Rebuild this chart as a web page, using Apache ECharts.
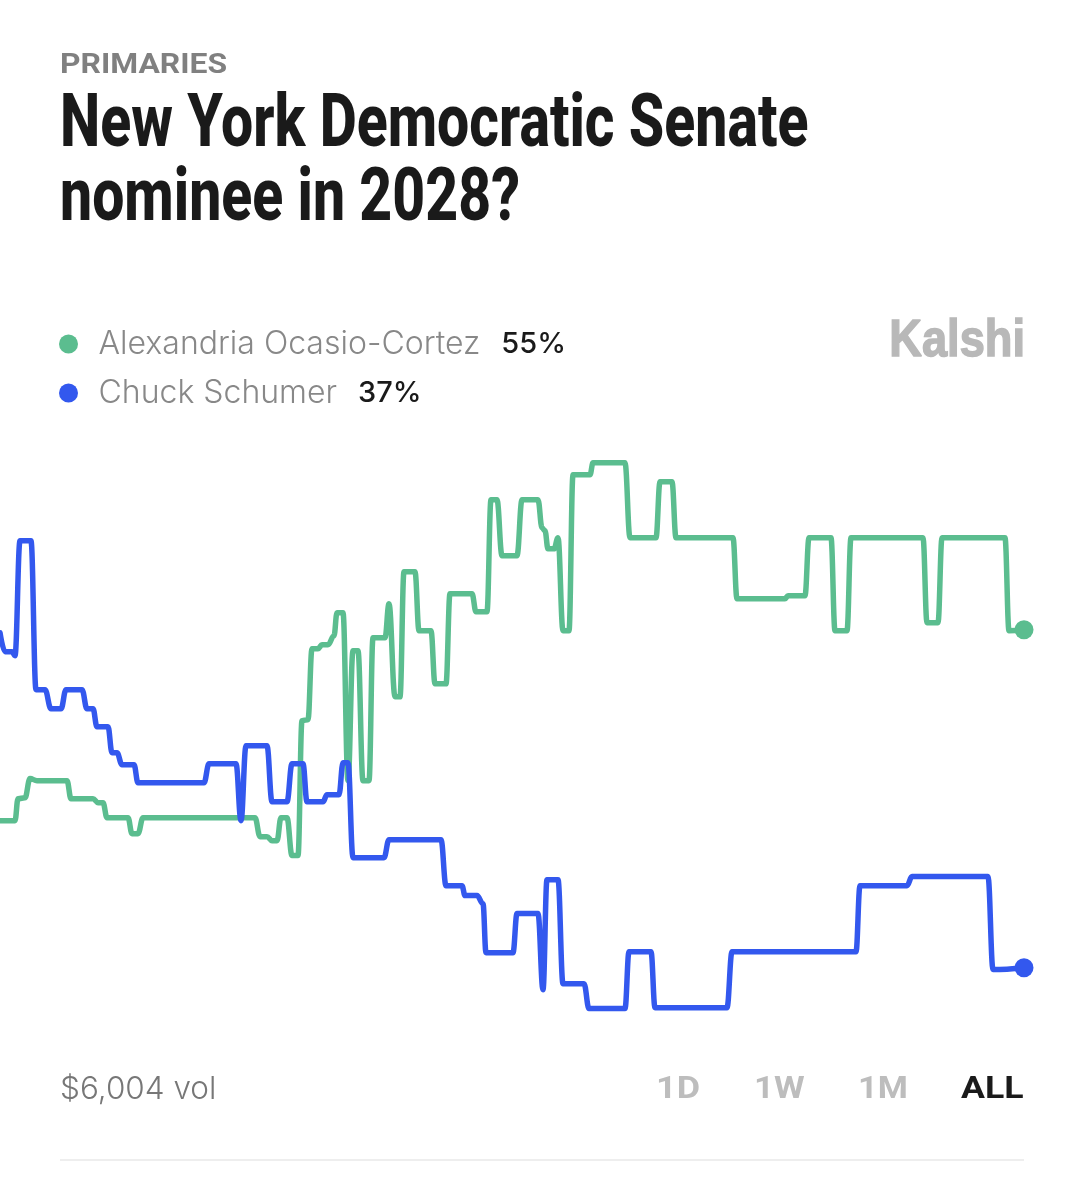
<!DOCTYPE html>
<html><head><meta charset="utf-8">
<style>html,body{margin:0;padding:0;background:#fff}#c{width:1084px;height:1200px}</style>
<script src="https://cdn.jsdelivr.net/npm/echarts@6/dist/echarts.min.js"></script>
</head><body><div id="c"></div>
<script>
const kicker = 'PRIMARIES';
const titleLines = ['New York Democratic Senate', 'nominee in 2028?'];
const aocName = 'Alexandria Ocasio-Cortez';
const schumerName = 'Chuck Schumer';
const aocNow = '55%';
const schumerNow = '37%';
const volume = '$6,004 vol';
const ranges = ['1D', '1W', '1M', 'ALL'];
const brand = 'Kalshi';
const aocColor = '#5bbd8f';
const schumerColor = '#3358ee';

const aocT = [0,15,18,25,30,37,67,71,93,98,103,107,128,132,138,143,255,260,267,272,277,281,287,292,298,302,308,312,318,322,328,334,337,343,348,353,358,363,369,373,385,389,395,400,404,415,419,431,435,446,450,472,476,487,491,497,502,517,522,538,542,545,548,554,558,563,569,573,590,593,625,630,656,660,672,676,733,737,785,788,805,809,831,835,847,851,923,927,938,942,1005,1009,1024];
const aocPct = [44.83,44.83,46.0,46.05,47.07,46.96,46.96,46.0,46.0,45.79,45.79,44.99,44.99,44.14,44.14,44.99,44.99,43.98,43.98,43.76,43.76,44.99,44.99,42.97,42.97,50.15,50.21,53.99,53.99,54.2,54.2,54.68,55.91,55.91,46.96,53.88,53.88,46.96,46.96,54.57,54.57,56.38,51.43,51.43,58.09,58.09,54.95,54.95,52.12,52.12,56.92,56.92,55.96,55.96,61.92,61.92,58.94,58.94,61.92,61.92,60.43,60.27,59.31,59.31,59.9,54.95,54.95,63.25,63.25,63.89,63.89,59.9,59.9,62.88,62.88,59.9,59.9,56.65,56.65,56.81,56.81,59.9,59.9,54.95,54.95,59.9,59.9,55.37,55.37,59.9,59.9,54.95,55.0];

const schumerT = [0,5,12,15,20,31,36,45,51,61,66,82,87,93,97,108,112,117,122,134,138,204,209,236,241,246,267,272,287,292,303,307,323,327,339,343,348,353,384,389,441,446,462,465,477,483,486,513,517,538,543,547,558,563,584,589,625,629,651,655,727,732,856,860,907,912,988,993,1024];
const schumerPct = [54.84,53.83,53.83,53.62,59.74,59.74,51.81,51.81,50.79,50.79,51.81,51.81,50.79,50.79,49.83,49.83,48.45,48.45,47.81,47.81,46.85,46.85,47.86,47.86,44.83,48.82,48.82,45.84,45.84,47.86,47.86,45.84,45.84,46.21,46.21,47.92,47.92,42.86,42.86,43.82,43.82,41.37,41.37,40.84,40.84,40.41,37.8,37.8,39.88,39.88,35.83,41.69,41.69,36.15,36.15,34.82,34.82,37.85,37.85,34.87,34.87,37.85,37.85,41.37,41.37,41.85,41.85,36.9,37.0];

const pairs = (t, v) => t.map((x, i) => [x, v[i]]);
const lineSeries = (name, t, v, color) => ({
  name, type: 'line', data: pairs(t, v), showSymbol: false,
  smooth: 0.4, smoothMonotone: 'x',
  lineStyle: { color, width: 5.5, cap: 'round', join: 'round' },
  itemStyle: { color },
  markPoint: {
    symbol: 'circle', symbolSize: 19, silent: true,
    itemStyle: { color }, label: { show: false },
    data: [{ coord: [t[t.length - 1], v[v.length - 1]] }]
  }
});

const txt = (text, x, y, font, fill, scaleX, align, heavy) => ({
  type: 'text', x, y, scaleX: scaleX || 1, scaleY: 1, silent: true,
  style: Object.assign(
    { text, font, fill, textAlign: align || 'left', textVerticalAlign: 'middle' },
    heavy ? { stroke: fill, lineWidth: heavy } : {}
  )
});
const titleFont = '800 75px Roboto';
const rangeFont = '700 31px Roboto';
const rangeGrey = '#bdbdbd';

const chart = echarts.init(document.getElementById('c'), null, { renderer: 'canvas' });
chart.setOption({
  animation: false,
  backgroundColor: '#ffffff',
  grid: { left: 0, right: 0, top: 442, bottom: 176 },
  xAxis: { type: 'value', min: 0, max: 1084, show: false },
  yAxis: { type: 'value', min: 34, max: 65, show: false },
  legend: {
    left: 54, top: 323, orient: 'vertical', icon: 'circle',
    itemWidth: 50, itemHeight: 19, itemGap: 17, selectedMode: false,
    data: [aocName, schumerName],
    formatter: n => n === aocName ? `{n|${n}}{p|${aocNow}}` : `{n|${n}}{p|${schumerNow}}`,
    textStyle: {
      rich: {
        n: { fontFamily: 'Inter', fontWeight: 300, fontSize: 32, color: '#888888', lineHeight: 30 },
        p: { fontFamily: 'Inter', fontWeight: 500, fontSize: 29, color: '#1a1a1a', padding: [0, 0, 0, 21], lineHeight: 30 }
      }
    }
  },
  series: [
    lineSeries(aocName, aocT, aocPct, aocColor),
    lineSeries(schumerName, schumerT, schumerPct, schumerColor)
  ],
  graphic: { elements: [
    txt(kicker, 60, 66, '700 27px Roboto', '#808080', 1.18),
    txt(titleLines[0], 60, 127, titleFont, '#1a1a1a', 0.762),
    txt(titleLines[1], 60, 201, titleFont, '#1a1a1a', 0.762),
    txt(brand, 1025, 342, '700 52px "Liberation Sans"', '#b8b8b8', 0.87, 'right', 1.5),
    txt(volume, 60, 1090, '300 31.5px Inter', '#777777', 1),
    txt(ranges[0], 656, 1090, rangeFont, rangeGrey, 1.16),
    txt(ranges[1], 754, 1090, rangeFont, rangeGrey, 1.13),
    txt(ranges[2], 858, 1090, rangeFont, rangeGrey, 1.11),
    txt(ranges[3], 961, 1090, rangeFont, '#1a1a1a', 1.15),
    { type: 'line', silent: true, shape: { x1: 60, y1: 1160, x2: 1024, y2: 1160 }, style: { stroke: '#eeeeee', lineWidth: 2 } }
  ] }
});
</script></body></html>
